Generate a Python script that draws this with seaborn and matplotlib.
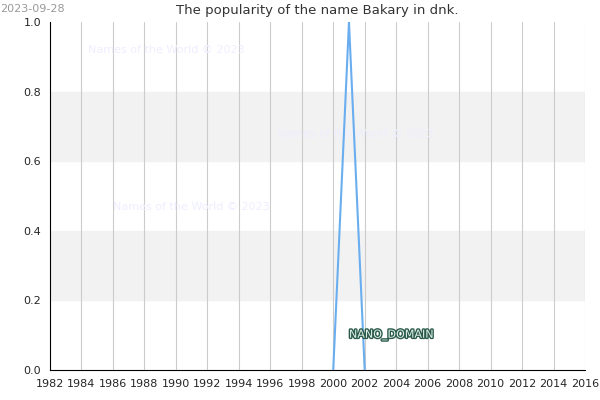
import matplotlib
matplotlib.use("Agg")
import matplotlib.pyplot as plt
import matplotlib.patheffects as pe
import seaborn as sns
import pandas as pd

years = [2000, 2001, 2002]
popularity = [0.0, 1.0, 0.0]

df = pd.DataFrame({"year": years, "popularity": popularity})

sns.set_style("white")
fig = plt.figure(figsize=(6, 4), dpi=100)
ax = fig.add_axes([50 / 600, 30 / 400, 535 / 600, 348 / 400])

for lo in [0.2, 0.6]:
    ax.axhspan(lo, lo + 0.2, color="#f2f2f2", zorder=0)
for yr in range(1984, 2017, 2):
    ax.axvline(yr, color="#cccccc", lw=0.8, zorder=1)

sns.lineplot(data=df, x="year", y="popularity", ax=ax, color="#6aaef0", lw=1.5, zorder=3)

ax.set_xlim(1982, 2016)
ax.set_ylim(0, 1)
ax.set_xticks(range(1982, 2017, 2))
ax.set_yticks([0, 0.2, 0.4, 0.6, 0.8, 1.0])
ax.set_yticklabels(["0.0", "0.2", "0.4", "0.6", "0.8", "1.0"])
ax.tick_params(labelsize=8, length=3)
ax.set_xlabel("")
ax.set_ylabel("")
for s in ["top", "right"]:
    ax.spines[s].set_visible(False)
ax.spines["left"].set_color("black")
ax.spines["bottom"].set_color("black")
ax.set_title("The popularity of the name Bakary in dnk.", fontsize=9.5, color="#333333", pad=6)

for x, y in [(1989.4, 0.91), (2001.4, 0.67), (1991, 0.46)]:
    ax.text(x, y, "Names of the World © 2023", fontsize=8, color="#eeeeff", ha="center", zorder=2)

ax.text(2001, 0.1, "NANO_DOMAIN", fontsize=8, color="#dff0e8", va="center",
        path_effects=[pe.withStroke(linewidth=2, foreground="#2a5a4a")], zorder=4)
fig.text(0.0, 0.99, "2023-09-28", fontsize=8, color="#999999", va="top")

fig.savefig("out.png", dpi=100)
